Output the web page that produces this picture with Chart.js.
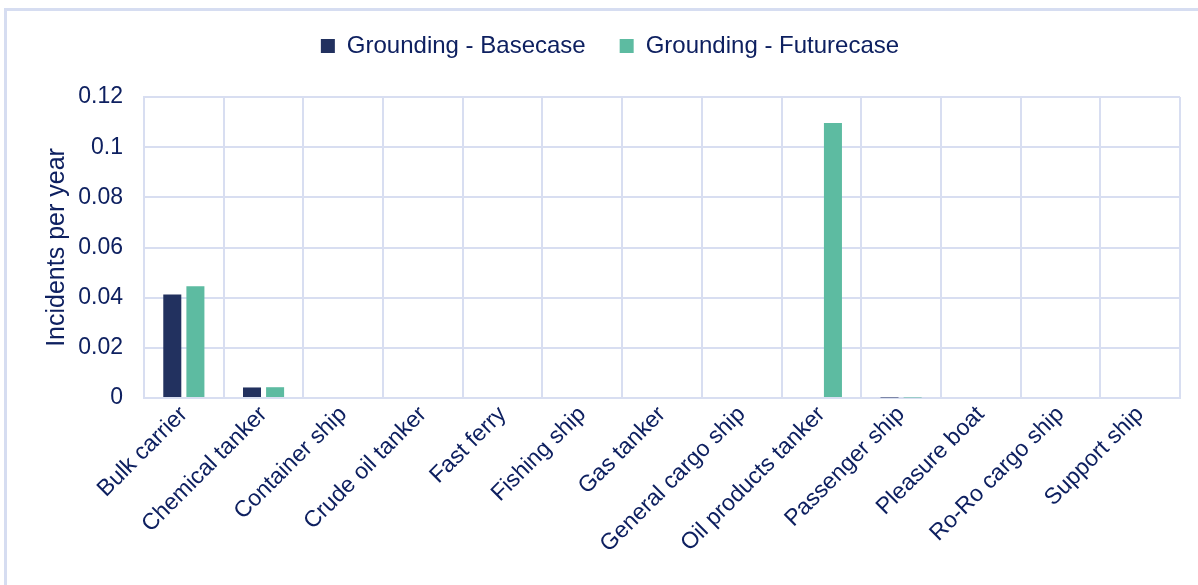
<!DOCTYPE html>
<html>
<head>
<meta charset="utf-8">
<script src="https://cdn.jsdelivr.net/npm/chart.js@4.4.1/dist/chart.umd.min.js"></script>
<style>
  html, body { margin: 0; padding: 0; background: #fff; overflow: hidden; }
  #frame { position: absolute; left: 4px; top: 8px; width: 1300px; height: 700px; border: 3px solid #d6ddf1; box-sizing: border-box; }
  #wrap { position: absolute; left: 0; top: 0; width: 1198px; height: 585px; }
</style>
</head>
<body>
<div id="frame"></div>
<div id="wrap"><canvas id="chart"></canvas></div>
<script>
const categories = ['Bulk carrier', 'Chemical tanker', 'Container ship', 'Crude oil tanker', 'Fast ferry',
  'Fishing ship', 'Gas tanker', 'General cargo ship', 'Oil products tanker', 'Passenger ship',
  'Pleasure boat', 'Ro-Ro cargo ship', 'Support ship'];
const basecase = [0.0413, 0.0042, 0, 0, 0, 0, 0, 0, 0, 0.0002, 0, 0, 0];
const futurecase = [0.0446, 0.0043, 0, 0, 0, 0, 0, 0, 0.1096, 0.0002, 0, 0, 0];
const yTicks = [0, 0.02, 0.04, 0.06, 0.08, 0.1, 0.12];

const textColor = '#0e2060';
const gridColor = '#d8def1';

// push the plot down under the legend
const legendSpace = {
  id: 'legendSpace',
  beforeInit(chart) {
    const origFit = chart.legend.fit;
    chart.legend.fit = function() {
      origFit.bind(chart.legend)();
      this.height = 97;
    };
  }
};

const ctx = document.getElementById('chart').getContext('2d');
new Chart(ctx, {
  type: 'bar',
  data: {
    labels: categories,
    datasets: [
      { label: 'Grounding - Basecase', data: basecase, backgroundColor: '#22315f' },
      { label: 'Grounding - Futurecase', data: futurecase, backgroundColor: '#5dbba1' }
    ]
  },
  plugins: [legendSpace],
  options: {
    responsive: true,
    maintainAspectRatio: false,
    animation: false,
    categoryPercentage: 0.58,
    barPercentage: 0.78,
    layout: { padding: { left: 40, right: 18, top: 0, bottom: 0 } },
    plugins: {
      tooltip: { enabled: false },
      legend: {
        position: 'top',
        labels: {
          color: textColor,
          font: { family: 'Liberation Sans', size: 24 },
          boxWidth: 14,
          boxHeight: 14,
          padding: 34
        }
      }
    },
    scales: {
      x: {
        grid: { color: gridColor, lineWidth: 2, drawTicks: false, offset: true },
        border: { color: gridColor, width: 2 },
        ticks: {
          color: textColor,
          font: { family: 'Liberation Sans', size: 23 },
          maxRotation: 45,
          minRotation: 45,
          autoSkip: false,
          padding: 3
        },
        afterFit: function(scale) { scale.height = 187; }
      },
      y: {
        min: 0,
        max: 0.12,
        afterBuildTicks: function(scale) { scale.ticks = yTicks.map(v => ({ value: v })); },
        grid: { color: gridColor, lineWidth: 2, drawTicks: false },
        border: { color: gridColor, width: 2 },
        ticks: {
          color: textColor,
          font: { family: 'Liberation Sans', size: 23 },
          padding: 21,
          callback: function(value) { return String(value); }
        },
        title: {
          display: true,
          text: 'Incidents per year',
          color: textColor,
          font: { family: 'Liberation Sans', size: 25 },
          padding: 2
        },
        afterFit: function(scale) { scale.width = 104; }
      }
    }
  }
});
</script>
</body>
</html>
